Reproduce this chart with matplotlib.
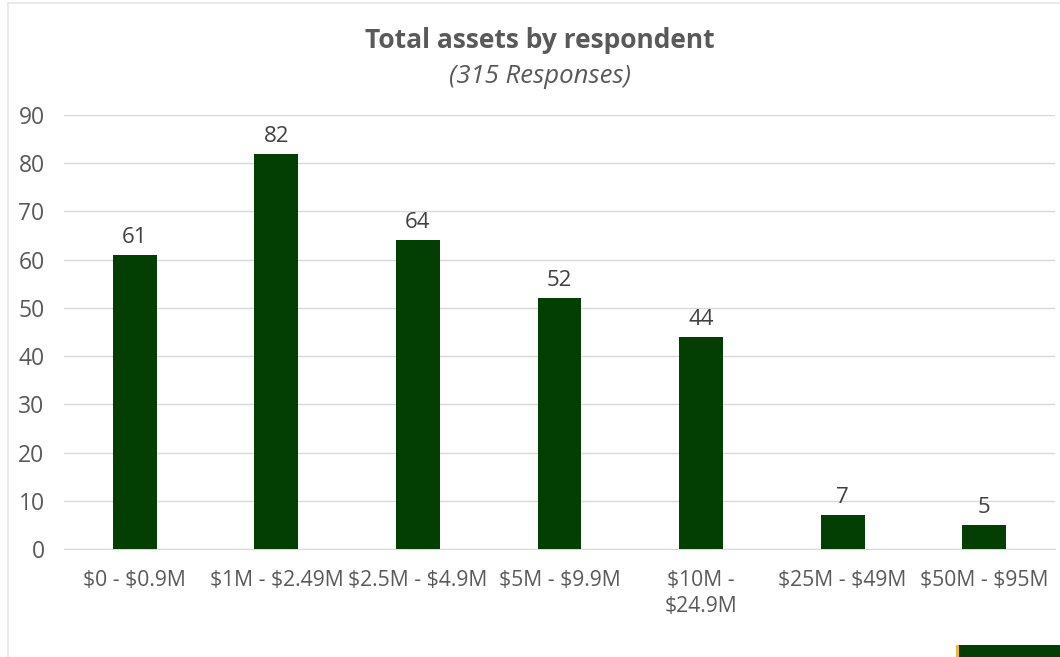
import matplotlib.pyplot as plt
from matplotlib.lines import Line2D
from matplotlib.patches import Rectangle

plt.rcParams['font.family'] = ['Open Sans', 'DejaVu Sans']
plt.rcParams['text.parse_math'] = False

categories = ['$0 - $0.9M', '$1M - $2.49M', '$2.5M - $4.9M', '$5M - $9.9M',
              '$10M -\n$24.9M', '$25M - $49M', '$50M - $95M']
respondents = [61, 82, 64, 52, 44, 7, 5]
y_ticks = [0, 10, 20, 30, 40, 50, 60, 70, 80, 90]

bar_color = '#033f03'
text_grey = '#595959'

fig = plt.figure(figsize=(10.6, 6.57), dpi=100)
ax = fig.add_axes([0.0604, 0.1644, 0.9349, 0.6606])

x = range(len(categories))
bars = ax.bar(x, respondents, width=0.31, color=bar_color, zorder=3)
ax.bar_label(bars, labels=[str(v) for v in respondents], padding=5,
             fontsize=16, color='#404040')

ax.set_xlim(-0.5, len(categories) - 0.5)
ax.set_ylim(0, 90)
ax.set_yticks(y_ticks)
ax.set_xticks(list(x))
ax.set_xticklabels(categories, fontsize=15.2, color=text_grey, linespacing=1.3)
ax.tick_params(axis='y', labelsize=16.5, labelcolor=text_grey, length=0, pad=14)
ax.tick_params(axis='x', length=0, pad=15)
ax.grid(axis='y', color='#d9d9d9', linewidth=1, zorder=0)
for s in ax.spines.values():
    s.set_visible(False)
ax.spines['bottom'].set_visible(True)
ax.spines['bottom'].set_color('#d9d9d9')

fig.text(0.5094, 0.939, 'Total assets by respondent', ha='center', va='center',
         fontsize=19, fontweight='bold', color=text_grey)
fig.text(0.5094, 0.884, '(315 Responses)', ha='center', va='center',
         fontsize=18.5, style='italic', color=text_grey)

# panel frame on the left and top edges
fig.add_artist(Line2D([8 / 1060, 8 / 1060], [0, 1 - 3 / 657],
                      transform=fig.transFigure, color='#e6e6e6', linewidth=1.2))
fig.add_artist(Line2D([8 / 1060, 1], [1 - 3 / 657, 1 - 3 / 657],
                      transform=fig.transFigure, color='#e6e6e6', linewidth=1.2))

# corner tab at the bottom right
fig.add_artist(Rectangle((956 / 1060, 0), 3 / 1060, 12 / 657,
                         transform=fig.transFigure, color='#f2b43c', lw=0))
fig.add_artist(Rectangle((959 / 1060, 0), 101 / 1060, 12 / 657,
                         transform=fig.transFigure, color=bar_color, lw=0))

fig.savefig('out.png', dpi=100)
